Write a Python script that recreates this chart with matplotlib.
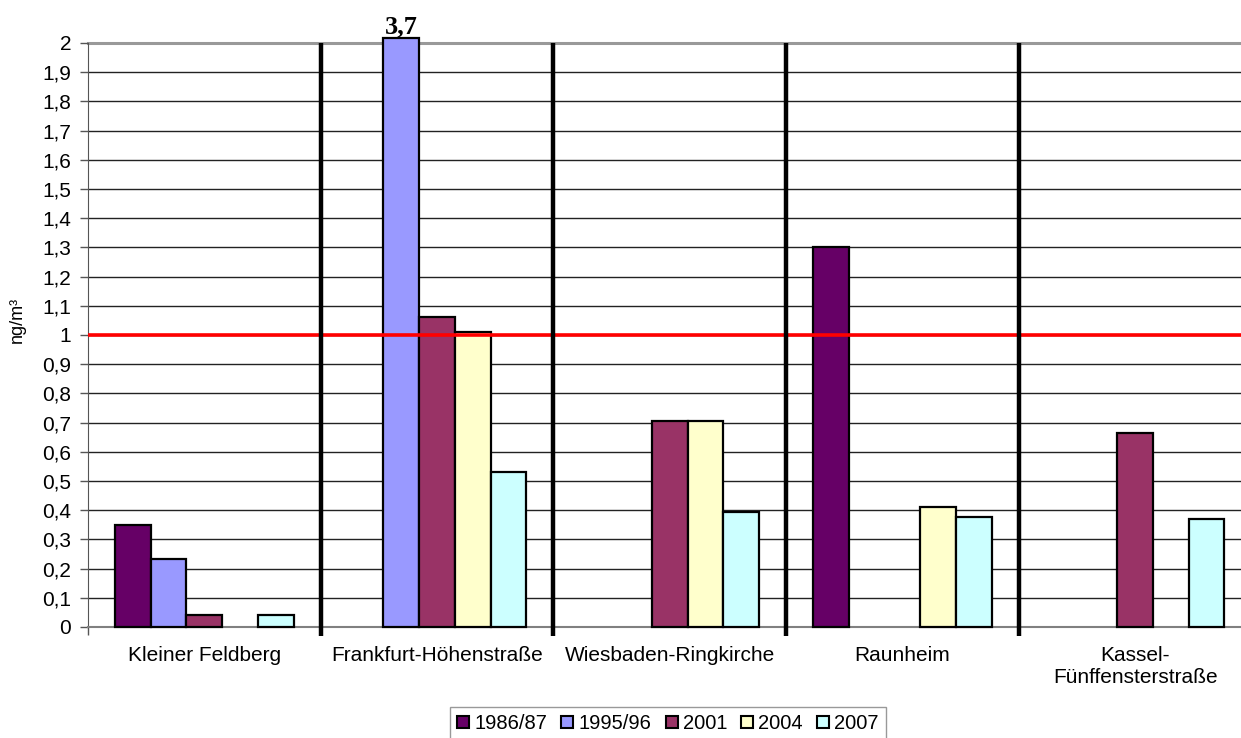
import numpy as np
import matplotlib
matplotlib.use('Agg')
import matplotlib.pyplot as plt
import matplotlib.patches as mpatches

# ── Data ──────────────────────────────────────────────────────────────────────
stations = ['Kleiner Feldberg', 'Frankfurt-Höhenstraße', 'Wiesbaden-Ringkirche',
            'Raunheim', 'Kassel-\nFünffensterstraße']
series = ['1986/87', '1995/96', '2001', '2004', '2007']
nan = np.nan
v_1986 = [0.35, nan, nan, 1.30, nan]
v_1995 = [0.234, 3.7, nan, nan, nan]
v_2001 = [0.041, 1.06, 0.705, nan, 0.665]
v_2004 = [nan, 1.01, 0.705, 0.412, nan]
v_2007 = [0.04, 0.53, 0.393, 0.378, 0.369]
values = [v_1986, v_1995, v_2001, v_2004, v_2007]
colors = ['#660066', '#9999FF', '#993366', '#FFFFCC', '#CCFFFF']
y_ticks = [i / 10 for i in range(21)]
limit = 1.0
y_max = 2.0

plt.rcParams['font.family'] = ['Liberation Sans', 'DejaVu Sans']
FS = 15

fig = plt.figure(figsize=(12.41, 7.38), dpi=100)
W, H = 1241, 738
ax = fig.add_axes([88 / W, 1 - 627 / H, 5 * 232.7 / W, 584 / H])

x = np.arange(len(stations))
bw = 0.1535
for i, (vals, col) in enumerate(zip(values, colors)):
    vals = np.array(vals, dtype=float)
    shown = np.minimum(vals, y_max + 0.017)   # off-scale bar runs just past the top
    ax.bar(x + (i - 2) * bw, shown, width=bw, color=col, edgecolor='black',
           linewidth=1.6, label=series[i], zorder=3, clip_on=False)
    for xi, v in zip(x, vals):
        if v > y_max:
            ax.text(xi + (i - 2) * bw, y_max + 0.015, f'{v:.1f}'.replace('.', ','),
                    ha='center', va='bottom', fontsize=19, fontweight='bold',
                    family='Liberation Serif')

# horizontal grid
for t in y_ticks[1:-1]:
    ax.axhline(t, color='#222222', lw=1.0, zorder=1)
ax.axhline(y_max, color='#999999', lw=2.2, zorder=1, clip_on=False)

# threshold line
ax.axhline(limit, color='#FF0000', lw=2.6, zorder=4)

# station separators
ax.vlines(x[:-1] + 0.5, -0.03, y_max, colors='black', lw=3.2, zorder=5,
          clip_on=False)

ax.set_xlim(-0.5, len(stations) - 0.5)
ax.set_ylim(0, y_max)
ax.set_yticks(y_ticks)
ax.set_yticklabels([f'{t:g}'.replace('.', ',') for t in y_ticks], fontsize=FS)
ax.tick_params(axis='y', direction='out', length=6, width=1, color='#555555', pad=6)

ax.set_xticks(np.arange(len(stations) + 1) - 0.5)
ax.set_xticklabels([])
ax.tick_params(axis='x', which='major', direction='out', length=6, width=1,
               color='#555555')
ax.set_xticks(x, minor=True)
ax.set_xticklabels(stations, minor=True, fontsize=FS)
ax.tick_params(axis='x', which='minor', length=0, pad=14)

for s in ['top', 'right']:
    ax.spines[s].set_visible(False)
ax.spines['left'].set_color('#555555')
ax.spines['bottom'].set_color('#808080')
ax.spines['bottom'].set_linewidth(1.5)

fig.text(17 / W, 1 - 320 / H, 'ng/m³', rotation=90, ha='center', va='center',
         fontsize=13)

handles = [mpatches.Patch(facecolor=c, edgecolor='black', linewidth=1.5, label=s)
           for c, s in zip(colors, series)]
fig.legend(handles=handles, loc='upper center', bbox_to_anchor=(668 / W, 1 - 707 / H),
           ncol=5, fontsize=14.5, frameon=True, fancybox=False, edgecolor='#808080',
           handlelength=0.6, handleheight=0.6, handletextpad=0.25,
           columnspacing=0.7, borderpad=0.35, borderaxespad=0)

fig.savefig('out.png', dpi=100)
